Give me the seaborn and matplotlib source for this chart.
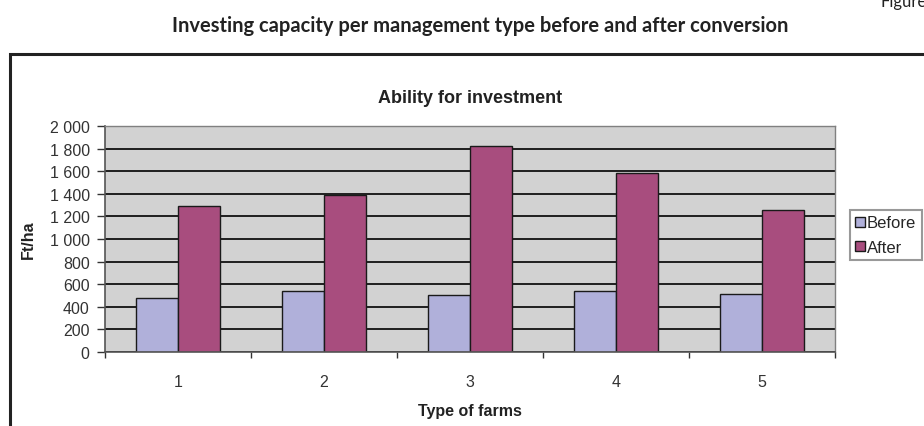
import matplotlib
matplotlib.use("Agg")
import matplotlib.pyplot as plt
import seaborn as sns
import pandas as pd
from matplotlib.patches import Rectangle
from matplotlib.ticker import FixedLocator, FuncFormatter

farm_types = ["1", "2", "3", "4", "5"]
before = [475, 540, 502, 540, 517]
after = [1292, 1387, 1823, 1588, 1260]
series_names = ["Before", "After"]
y_ticks = [0, 200, 400, 600, 800, 1000, 1200, 1400, 1600, 1800, 2000]

df = pd.DataFrame({
    "Type of farms": farm_types * 2,
    "value": before + after,
    "series": [series_names[0]] * 5 + [series_names[1]] * 5,
})

sns.set_style("white")
plt.rcParams["font.family"] = ["Liberation Sans", "DejaVu Sans"]

fig = plt.figure(figsize=(9.24, 4.27), dpi=100)
ax = fig.add_axes([0.1136, 0.1733, 0.7901, 0.5293])

colors = {"Before": "#B0B0DA", "After": "#A84D7E"}
sns.barplot(data=df, x="Type of farms", y="value", hue="series", palette=colors,
            width=0.575, edgecolor="#1a1a1a", linewidth=1.0, ax=ax, saturation=1)

ax.set_facecolor("#D2D2D2")
ax.set_ylim(0, 2000)
ax.set_xlim(-0.5, 4.5)
ax.yaxis.set_major_locator(FixedLocator(y_ticks))
ax.yaxis.set_major_formatter(FuncFormatter(lambda v, p: f"{int(v):,}".replace(",", " ")))
ax.grid(axis="y", color="black", linewidth=1.2)
ax.set_axisbelow(True)
for s in ["top", "right"]:
    ax.spines[s].set_color("#808080")
    ax.spines[s].set_linewidth(1)
for s in ["left", "bottom"]:
    ax.spines[s].set_color("#555555")
    ax.spines[s].set_linewidth(1.2)

ax.tick_params(axis="y", length=6, width=1, color="#333333", labelsize=11.5, labelcolor="#333333", left=True, pad=5)
ax.tick_params(axis="x", which="major", length=0, labelsize=11.5, labelcolor="#333333", pad=16)
ax.set_xticks([-0.5, 0.5, 1.5, 2.5, 3.5, 4.5], minor=True)
ax.tick_params(axis="x", which="minor", length=4, width=1, color="#333333", bottom=True)

ax.set_xlabel("Type of farms", fontsize=11.5, fontweight="bold", color="#222222", labelpad=10)
ax.set_ylabel("Ft/ha", fontsize=11.5, fontweight="bold", color="#222222", labelpad=10)
ax.set_title("Ability for investment", fontsize=13, fontweight="bold", color="#222222", pad=17)

leg = ax.legend(loc="upper left", bbox_to_anchor=(1.02, 0.63), frameon=True, fancybox=False,
                fontsize=12, handlelength=0.55, handleheight=0.55, handletextpad=0.15,
                borderpad=0.35, labelspacing=0.55, borderaxespad=0)
leg.get_frame().set_edgecolor("#808080")
leg.get_frame().set_linewidth(1.5)

# outer frame (extends beyond the right and bottom edges)
fig.patches.append(Rectangle((10 / 924, -0.1), 1.1, 1 - 55 / 427 + 0.1, transform=fig.transFigure,
                             fill=False, edgecolor="#222222", linewidth=2.2))

fig.text(0.52, 1 - 26 / 427, "Investing capacity per management type before and after conversion",
         ha="center", va="center", fontsize=14.5, fontweight="bold", family=["Lato", "DejaVu Sans"],
         color="#222222")
fig.text(0.953, 0.995, "Figure", ha="left", va="center", fontsize=12, family=["Lato", "DejaVu Sans"],
         color="#222222")

fig.savefig("out.png", dpi=100)
